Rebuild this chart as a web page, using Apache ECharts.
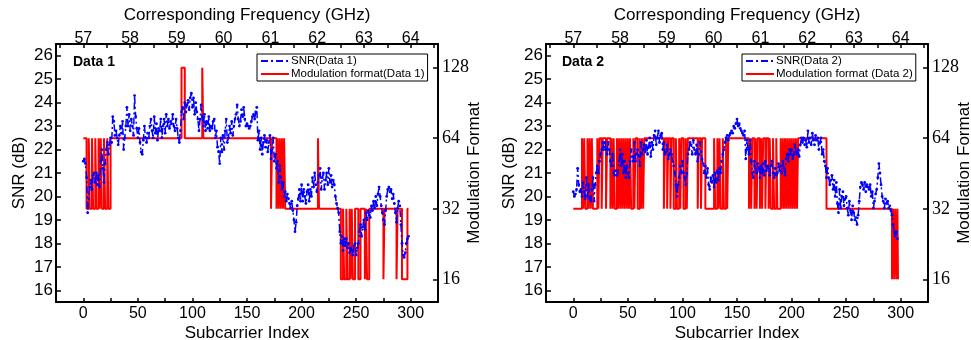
<!DOCTYPE html>
<html><head><meta charset="utf-8">
<script src="https://cdn.jsdelivr.net/npm/echarts@6/dist/echarts.min.js"></script>
<style>html,body{margin:0;padding:0;background:#fff}#c{width:971px;height:340px}</style>
</head><body><div id="c"></div>
<script>
// ---- tick labels ----
const idxLabels = [0, 50, 100, 150, 200, 250, 300];
const idxTicks = [0, 25, 50, 75, 100, 125, 150, 175, 200, 225, 250, 275, 300];
const freqLabels = [57, 58, 59, 60, 61, 62, 63, 64];
const freqTicks = [56.5, 57, 57.5, 58, 58.5, 59, 59.5, 60, 60.5, 61, 61.5, 62, 62.5, 63, 63.5, 64, 64.5];
const snrLabels = [16, 17, 18, 19, 20, 21, 22, 23, 24, 25, 26];
const modLabels = [16, 32, 64, 128];

// ---- Data 1: SNR per subcarrier (index 0..298) ----
const snr1 = [
21.5,21.6,21.4,20.8,19.3,19.9,20.4,20.7,20.3,20.9,
21.0,20.6,21.0,20.5,20.9,20.4,21.5,22.0,21.2,20.6,
21.4,22.0,22.3,21.8,22.2,22.5,22.3,23.4,23.2,22.6,
22.8,22.5,22.2,22.6,23.0,22.7,23.2,22.0,22.5,23.0,
23.8,23.0,23.5,22.8,23.3,23.0,22.6,24.3,23.4,22.9,
22.5,22.9,22.3,21.9,21.8,22.4,23.0,22.5,22.3,22.7,
22.5,23.0,23.3,22.8,22.5,23.4,22.7,23.1,22.4,22.9,
22.8,23.3,22.5,23.0,23.3,22.7,23.5,23.0,23.3,22.9,
23.2,23.1,23.5,23.0,22.8,23.3,22.9,22.5,22.3,22.8,
23.6,23.8,23.3,24.0,23.6,23.9,24.1,23.7,24.2,24.4,
23.8,24.2,23.5,24.0,23.6,23.3,22.8,23.3,23.9,23.4,
23.0,23.5,22.8,23.2,22.9,23.4,22.8,23.0,22.9,23.2,
23.3,22.5,22.8,22.1,21.9,21.4,22.5,21.9,22.6,22.0,
22.8,23.3,22.3,22.5,23.0,22.7,23.2,22.6,23.0,23.3,
23.5,23.9,23.3,23.0,23.2,23.7,23.4,23.8,23.3,23.0,
23.1,23.0,22.9,23.0,23.2,23.4,23.5,23.3,23.6,23.8,
22.4,22.8,22.0,22.5,21.8,22.3,22.6,22.1,22.4,21.9,
22.3,22.6,21.6,22.0,22.5,21.5,21.8,21.2,21.5,20.6,
21.3,20.8,20.3,20.6,20.0,20.2,19.8,20.1,19.9,19.7,
19.5,19.8,19.4,19.0,18.5,18.9,19.6,19.9,20.3,19.8,
20.5,19.8,20.3,20.0,19.7,20.2,20.5,19.8,20.3,20.0,
20.8,20.4,21.0,20.5,20.2,20.6,20.9,21.2,20.3,20.8,
21.0,20.3,20.7,21.0,20.5,21.2,20.6,20.9,20.4,20.7,
20.5,20.0,19.7,19.5,19.3,18.5,18.0,18.3,17.7,18.2,
17.9,18.2,17.8,18.0,17.6,17.8,17.7,17.5,17.9,18.0,
17.5,17.8,18.0,18.5,18.8,18.3,18.7,19.0,18.6,19.3,
19.0,19.4,19.2,19.1,19.6,19.4,19.8,19.5,20.0,19.6,
20.1,20.4,20.0,19.6,19.3,19.0,18.8,19.4,20.0,20.3,
20.4,20.2,20.3,19.9,20.1,19.7,19.3,18.9,19.5,19.8,
19.6,18.8,18.0,17.5,17.4,17.6,18.0,18.2,18.3
];
// Data 1: modulation format, [subcarrier where format starts, format]
const mod1 = [
[0,64],[3,32],[5,64],[6,32],[8,64],[9,32],[11,64],[12,32],[14,64],[15,32],[16,64],[17,32],[19,64],[20,32],[22,64],[23,32],[25,64],
[90,128],[93,64],[109,128],[110,64],
[172,32],[173,64],[177,32],[178,64],[179,32],[180,64],[181,32],[182,64],[183,32],[184,64],[185,32],
[215,64],[216,32],
[236,16],[238,32],[239,16],[241,32],[242,16],[244,32],[245,16],[246,32],[247,16],[249,32],[252,16],[254,32],[258,16],[259,32],[260,16],[262,32],
[275,16],[276,32],[287,16],[288,32],[292,16],[297,32],[298,32]
];

// ---- Data 2: SNR per subcarrier (index 0..297) ----
const snr2 = [
20.2,20.0,20.1,20.3,21.2,20.5,20.2,20.3,20.0,20.6,
20.2,19.9,20.8,20.0,20.5,19.9,19.8,20.3,20.8,19.8,
20.5,21.0,21.3,21.0,21.5,21.8,22.0,22.3,22.0,22.3,
22.0,21.8,22.3,22.0,21.5,21.3,21.8,21.0,20.9,21.1,
20.9,21.0,21.5,22.0,21.3,21.8,21.0,21.5,20.8,21.3,
21.0,20.8,21.5,22.0,21.7,21.5,22.3,21.5,21.8,22.0,
21.7,21.3,22.3,21.8,22.0,22.2,21.9,22.4,21.8,22.1,
22.5,21.7,22.3,22.0,22.6,22.8,22.2,22.5,22.8,22.3,
22.6,22.7,22.0,22.3,21.8,21.9,22.2,21.6,21.8,22.0,
21.8,21.5,21.3,21.0,20.5,20.0,20.5,20.8,21.3,21.0,
21.5,21.0,20.8,20.5,21.0,21.8,22.0,22.3,22.2,21.8,
22.4,22.0,21.8,22.2,21.5,21.8,22.3,21.9,21.6,21.4,
21.0,21.3,20.8,21.2,20.5,20.3,20.8,20.6,20.9,20.4,
21.0,20.6,21.1,20.7,21.2,21.0,21.5,21.8,22.0,22.3,
22.5,22.6,22.4,22.6,22.7,22.8,22.7,23.0,22.9,23.1,
23.3,23.0,23.1,22.9,22.8,22.7,22.6,22.8,21.6,22.4,
22.0,21.8,22.4,21.5,21.0,20.8,21.5,21.2,21.0,21.4,
21.2,20.8,21.3,21.0,21.4,20.9,21.5,21.1,21.3,21.2,
20.9,21.3,21.5,21.0,20.8,21.2,20.9,21.0,21.4,21.1,
21.3,21.0,21.5,21.2,20.9,21.6,21.8,21.5,22.0,21.8,
22.0,21.6,21.8,22.2,21.9,21.8,22.0,21.7,22.2,22.5,
22.3,22.5,22.2,22.4,22.1,22.8,22.3,22.5,22.2,22.7,
22.4,22.2,22.6,22.4,22.5,22.0,22.3,22.5,21.8,22.0,
21.5,21.3,20.8,21.2,20.8,20.5,20.7,20.9,20.3,20.7,
20.0,20.6,19.7,19.3,20.3,19.5,20.0,20.2,19.6,19.9,
20.0,19.5,19.2,19.8,19.4,19.0,19.6,19.3,19.0,19.1,
18.8,19.2,19.8,20.4,20.6,20.5,20.3,20.6,20.2,20.5,
20.4,20.3,20.5,20.0,20.2,19.5,19.8,20.1,20.3,20.8,
21.4,21.0,20.5,20.0,19.8,19.5,19.9,19.7,19.8,19.5,
19.6,19.4,19.2,18.8,18.5,18.3,18.5,18.2
];
// Data 2: modulation format, [subcarrier where format starts, format]
const mod2 = [
[0,32],[8,64],[9,32],[10,64],[11,32],[13,64],[14,32],[15,64],[16,32],[17,64],[18,32],[22,64],[23,32],[24,64],[26,32],[27,64],[30,32],[31,64],[34,32],[35,64],[36,32],[37,64],[38,32],
[40,64],[41,32],[42,64],[43,32],[44,64],[45,32],[46,64],[47,32],[48,64],[49,32],[50,64],[51,32],[52,64],[53,32],[55,64],[56,32],[57,64],[59,32],[61,64],[62,32],[63,64],[64,32],[65,64],
[83,32],[84,64],[86,32],[87,64],[89,32],[90,64],[92,32],[94,64],[95,32],[97,64],[98,32],[99,64],[101,32],[103,64],[104,32],[105,64],[114,32],[115,64],[117,32],[118,64],[121,32],
[129,64],[130,32],[132,64],[133,32],[134,64],[135,32],[137,64],[138,32],[140,64],[141,32],[142,64],
[161,32],[162,64],[163,32],[164,64],[166,32],[167,64],[168,32],[169,64],[171,32],[172,64],[173,32],[174,64],[176,32],[177,64],[179,32],[180,64],[181,32],[183,64],[184,32],[186,64],[187,32],
[190,64],[191,32],[192,64],[193,32],[194,64],[195,32],[196,64],[197,32],[198,64],[199,32],[200,64],[201,32],[202,64],[203,32],[204,64],[205,32],[206,64],
[232,32],[292,16],[293,32],[294,16],[295,32],[296,16],[297,32],[297.5,16]
];

const BLUE = '#0000ff', RED = '#ff0000', BLK = '#000';
const SANS = 'Liberation Sans, Arial, sans-serif';
const SERIF = 'Liberation Serif, Times New Roman, serif';
const idxMin = -25, idxMax = 325;
const fMin = 57 + idxMin * 7 / 300, fMax = 57 + idxMax * 7 / 300;

function axLine() { return { show: true, onZero: false, lineStyle: { color: BLK, width: 2 } }; }

function xAxes(g) {
  return [
    { type: 'value', gridIndex: g, position: 'bottom', min: idxMin, max: idxMax,
      axisLine: axLine(), splitLine: { show: false },
      axisTick: { inside: true, length: 4, customValues: idxTicks, lineStyle: { color: BLK, width: 1.5 } },
      axisLabel: { customValues: idxLabels, color: BLK, fontSize: 16, fontFamily: SANS, margin: 4 },
      name: 'Subcarrier Index', nameLocation: 'middle', nameGap: 23, nameMoveOverlap: false,
      nameTextStyle: { color: BLK, fontSize: 17, fontFamily: SANS } },
    { type: 'value', gridIndex: g, position: 'top', min: fMin, max: fMax,
      axisLine: axLine(), splitLine: { show: false },
      axisTick: { inside: true, length: 4, customValues: freqTicks, lineStyle: { color: BLK, width: 1.5 } },
      axisLabel: { customValues: freqLabels, color: BLK, fontSize: 16, fontFamily: SANS, margin: -3 },
      name: 'Corresponding Frequency (GHz)', nameLocation: 'middle', nameGap: 20, nameMoveOverlap: false,
      nameTextStyle: { color: BLK, fontSize: 17, fontFamily: SANS } }
  ];
}
function yAxes(g) {
  return [
    { type: 'value', gridIndex: g, position: 'left', min: 15.5, max: 26.5,
      axisLine: axLine(), splitLine: { show: false },
      axisTick: { inside: true, length: 5, customValues: snrLabels, lineStyle: { color: BLK, width: 1.5 } },
      axisLabel: { customValues: snrLabels, color: BLK, fontSize: 17, fontFamily: SANS, margin: 3 },
      name: 'SNR (dB)', nameLocation: 'middle', nameGap: 28, nameRotate: 90, nameMoveOverlap: false,
      nameTextStyle: { color: BLK, fontSize: 17, fontFamily: SANS } },
    { type: 'log', logBase: 2, gridIndex: g, position: 'right', min: 12.8, max: 161.6,
      axisLine: axLine(), splitLine: { show: false }, minorTick: { show: false },
      axisTick: { inside: true, length: 5, lineStyle: { color: BLK, width: 1.5 } },
      axisLabel: { showMinLabel: false, showMaxLabel: false, color: BLK, fontSize: 18, fontFamily: SERIF, margin: 4 },
      name: 'Modulation Format', nameLocation: 'middle', nameGap: 28, nameRotate: 90, nameMoveOverlap: false,
      nameTextStyle: { color: BLK, fontSize: 17, fontFamily: SANS } }
  ];
}
function snrSeries(name, arr, xi, yi) {
  return { name, type: 'line', xAxisIndex: xi, yAxisIndex: yi, data: arr.map((v, i) => [i, v]),
    symbol: 'circle', symbolSize: 2.8, showAllSymbol: true, itemStyle: { color: BLUE },
    lineStyle: { color: BLUE, width: 1.5, type: [7, 3, 2, 3] }, z: 4, animation: false };
}
function modSeries(name, arr, xi, yi) {
  return { name, type: 'line', step: 'end', xAxisIndex: xi, yAxisIndex: yi, data: arr,
    symbol: 'none', itemStyle: { color: RED }, lineStyle: { color: RED, width: 2 }, z: 3, animation: false };
}
function legend(left, names) {
  return { left, top: 54, orient: 'vertical', data: names, itemWidth: 28, itemHeight: 13, itemGap: 1,
    padding: [1, 3, 1, 3], borderColor: BLK, borderWidth: 1, backgroundColor: '#fff',
    itemStyle: { opacity: 0 },
    textStyle: { color: BLK, fontSize: 11.5, fontFamily: SANS, padding: [0, 0, 0, -3] }, selectedMode: false };
}

const chart = echarts.init(document.getElementById('c'), null, { renderer: 'canvas' });
chart.setOption({
  animation: false,
  backgroundColor: '#fff',
  title: [
    { text: 'Data 1', left: 73, top: 55, padding: 0, textStyle: { fontSize: 14, fontWeight: 'bold', color: BLK, fontFamily: SANS } },
    { text: 'Data 2', left: 562, top: 55, padding: 0, textStyle: { fontSize: 14, fontWeight: 'bold', color: BLK, fontFamily: SANS } }
  ],
  legend: [
    legend(257, ['SNR(Data 1)', 'Modulation format(Data 1)']),
    legend(742, ['SNR(Data 2)', 'Modulation format (Data 2)'])
  ],
  grid: [
    { left: 56, top: 44, width: 382, height: 258, containLabel: false, outerBoundsMode: 'none' },
    { left: 546, top: 44, width: 382, height: 258, containLabel: false, outerBoundsMode: 'none' }
  ],
  xAxis: [...xAxes(0), ...xAxes(1)],
  yAxis: [...yAxes(0), ...yAxes(1)],
  series: [
    modSeries('Modulation format(Data 1)', mod1, 0, 1),
    snrSeries('SNR(Data 1)', snr1, 0, 0),
    modSeries('Modulation format (Data 2)', mod2, 2, 3),
    snrSeries('SNR(Data 2)', snr2, 2, 2)
  ]
});
</script></body></html>
